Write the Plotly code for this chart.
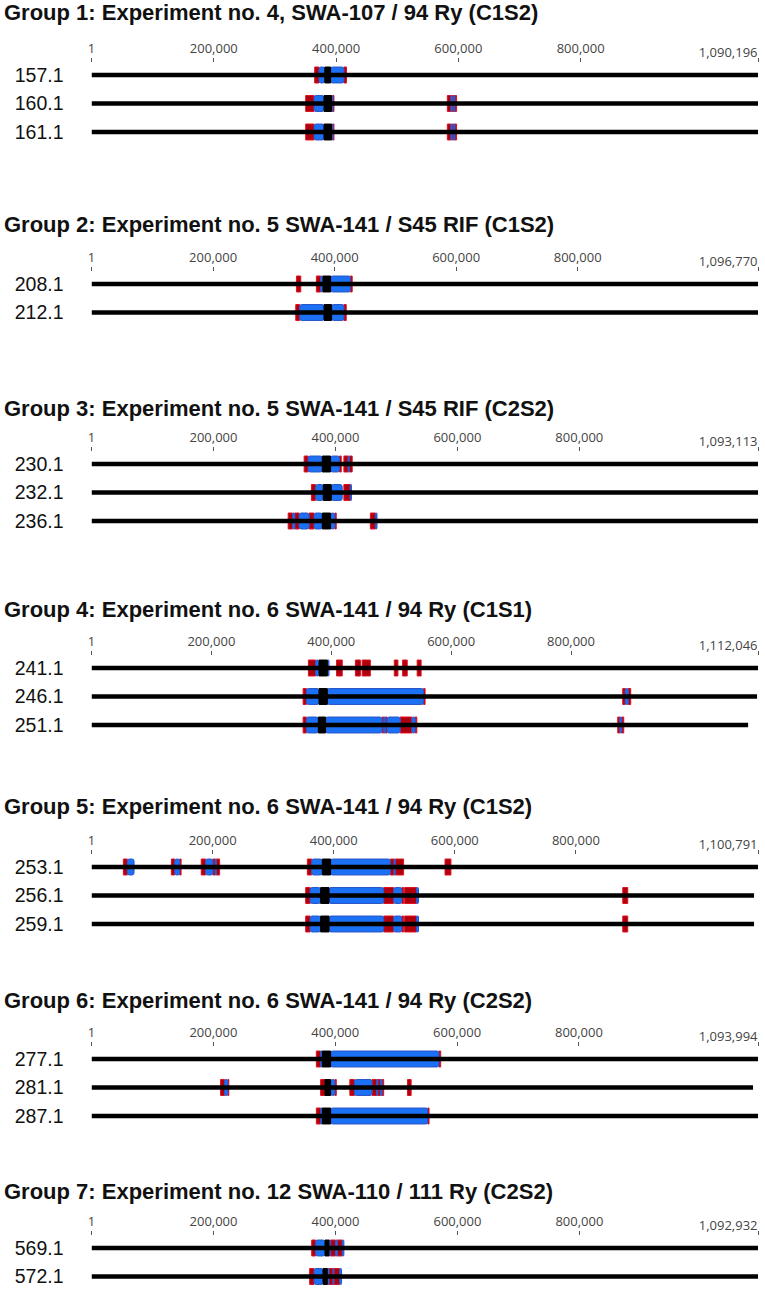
import plotly.graph_objects as go

# group titles, genome lengths and samples
group_titles = [
    "Group 1: Experiment no. 4, SWA-107 / 94 Ry (C1S2)",
    "Group 2: Experiment no. 5 SWA-141 / S45 RIF (C1S2)",
    "Group 3: Experiment no. 5 SWA-141 / S45 RIF (C2S2)",
    "Group 4: Experiment no. 6 SWA-141 / 94 Ry (C1S1)",
    "Group 5: Experiment no. 6 SWA-141 / 94 Ry (C1S2)",
    "Group 6: Experiment no. 6 SWA-141 / 94 Ry (C2S2)",
    "Group 7: Experiment no. 12 SWA-110 / 111 Ry (C2S2)",
]
genome_lengths = [1090196, 1096770, 1093113, 1112046, 1100791, 1093994, 1092932]
group_samples = [
    ["157.1", "160.1", "161.1"],
    ["208.1", "212.1"],
    ["230.1", "232.1", "236.1"],
    ["241.1", "246.1", "251.1"],
    ["253.1", "256.1", "259.1"],
    ["277.1", "281.1", "287.1"],
    ["569.1", "572.1"],
]
sample_lengths = [
    [1090196, 1090196, 1090196],
    [1096770, 1096770],
    [1093113, 1093113, 1093113],
    [1112046, 1110400, 1095500],
    [1100791, 1094200, 1094200],
    [1093994, 1085800, 1093994],
    [1092932, 1092932],
]

# segments: (sample, start kb, end kb, kind)  R=red, B=blue, K=black
g1_segments = [
    ("157.1", 365.0, 372.1, "R"), ("157.1", 372.1, 381.6, "B"), ("157.1", 381.6, 391.0, "K"),
    ("157.1", 391.0, 412.8, "B"), ("157.1", 412.8, 417.0, "R"),
    ("160.1", 350.3, 364.0, "R"), ("160.1", 364.0, 380.3, "B"), ("160.1", 380.3, 392.6, "K"),
    ("160.1", 392.6, 394.9, "B"), ("160.1", 394.9, 396.5, "R"),
    ("160.1", 582.0, 587.9, "R"), ("160.1", 587.9, 590.2, "B"), ("160.1", 590.2, 592.7, "R"),
    ("160.1", 592.7, 594.4, "B"), ("160.1", 594.4, 597.1, "R"),
    ("161.1", 350.3, 364.0, "R"), ("161.1", 364.0, 380.3, "B"), ("161.1", 380.3, 392.6, "K"),
    ("161.1", 392.6, 394.9, "B"), ("161.1", 394.9, 396.5, "R"),
    ("161.1", 582.0, 587.9, "R"), ("161.1", 587.9, 590.2, "B"), ("161.1", 590.2, 592.7, "R"),
    ("161.1", 592.7, 594.4, "B"), ("161.1", 594.4, 597.1, "R"),
]
g2_segments = [
    ("208.1", 337.2, 344.3, "R"), ("208.1", 370.0, 377.0, "R"), ("208.1", 377.0, 380.9, "B"),
    ("208.1", 380.9, 393.4, "K"), ("208.1", 393.4, 426.1, "B"), ("208.1", 426.1, 428.9, "R"),
    ("212.1", 336.1, 342.6, "R"), ("212.1", 342.6, 382.6, "B"), ("212.1", 382.6, 395.0, "K"),
    ("212.1", 395.0, 415.3, "B"), ("212.1", 415.3, 419.1, "R"),
]
g3_segments = [
    ("230.1", 348.7, 355.2, "R"), ("230.1", 355.2, 378.5, "B"), ("230.1", 378.5, 392.0, "K"),
    ("230.1", 392.0, 406.7, "B"), ("230.1", 406.7, 409.5, "R"), ("230.1", 413.9, 420.9, "R"),
    ("230.1", 420.9, 423.1, "B"), ("230.1", 423.1, 427.5, "R"),
    ("232.1", 360.6, 367.6, "R"), ("232.1", 367.6, 380.1, "B"), ("232.1", 380.1, 393.2, "K"),
    ("232.1", 393.2, 411.1, "B"), ("232.1", 413.9, 424.2, "R"), ("232.1", 424.2, 426.3, "B"),
    ("236.1", 322.5, 329.6, "R"), ("236.1", 329.6, 333.3, "B"), ("236.1", 333.3, 340.5, "R"),
    ("236.1", 340.5, 356.8, "B"), ("236.1", 356.8, 365.0, "R"), ("236.1", 365.0, 378.5, "B"),
    ("236.1", 378.5, 392.0, "K"), ("236.1", 392.0, 399.2, "B"), ("236.1", 399.2, 401.3, "R"),
    ("236.1", 457.3, 465.5, "R"), ("236.1", 465.5, 468.2, "B"),
]
g4_segments = [
    ("241.1", 361.8, 374.0, "R"), ("241.1", 374.0, 379.6, "B"), ("241.1", 379.6, 393.4, "K"),
    ("241.1", 393.4, 396.2, "B"), ("241.1", 408.8, 418.3, "R"), ("241.1", 440.3, 448.6, "R"),
    ("241.1", 451.5, 465.2, "R"), ("241.1", 505.1, 511.2, "R"), ("241.1", 519.0, 526.7, "R"),
    ("241.1", 543.3, 549.9, "R"),
    ("246.1", 353.0, 358.5, "R"), ("246.1", 358.5, 379.6, "B"), ("246.1", 379.6, 393.4, "K"),
    ("246.1", 393.4, 553.9, "B"), ("246.1", 553.9, 556.5, "R"),
    ("246.1", 886.3, 890.5, "R"), ("246.1", 890.5, 895.5, "B"), ("246.1", 895.5, 899.6, "R"),
    ("251.1", 353.0, 358.5, "R"), ("251.1", 358.5, 378.4, "B"), ("251.1", 378.4, 390.5, "K"),
    ("251.1", 390.5, 484.7, "B"), ("251.1", 484.7, 487.5, "R"), ("251.1", 487.5, 490.1, "B"),
    ("251.1", 490.1, 492.9, "R"), ("251.1", 492.9, 515.0, "B"), ("251.1", 515.0, 534.4, "R"),
    ("251.1", 534.4, 539.9, "B"), ("251.1", 539.9, 542.7, "R"),
    ("251.1", 878.0, 881.4, "R"), ("251.1", 881.4, 884.7, "B"), ("251.1", 884.7, 888.0, "R"),
]
g5_segments = [
    ("253.1", 52.6, 59.1, "R"), ("253.1", 59.1, 70.2, "B"),
    ("253.1", 131.9, 137.5, "R"), ("253.1", 137.5, 145.7, "B"), ("253.1", 145.7, 147.9, "R"),
    ("253.1", 181.2, 188.5, "R"), ("253.1", 188.5, 200.4, "B"), ("253.1", 200.4, 204.0, "R"),
    ("253.1", 204.0, 206.0, "B"), ("253.1", 206.0, 211.5, "R"),
    ("253.1", 356.5, 363.6, "R"), ("253.1", 363.6, 381.2, "B"), ("253.1", 381.2, 394.8, "K"),
    ("253.1", 394.8, 493.4, "B"), ("253.1", 493.4, 499.5, "R"), ("253.1", 499.5, 501.6, "B"),
    ("253.1", 501.6, 515.4, "R"), ("253.1", 583.8, 593.6, "R"),
    ("256.1", 353.7, 361.0, "R"), ("256.1", 361.0, 378.4, "B"), ("256.1", 378.4, 392.2, "K"),
    ("256.1", 392.2, 482.5, "B"), ("256.1", 482.5, 498.9, "R"), ("256.1", 498.9, 512.6, "B"),
    ("256.1", 512.6, 515.4, "R"), ("256.1", 517.1, 536.6, "R"), ("256.1", 536.6, 540.0, "B"),
    ("256.1", 877.4, 885.6, "R"),
    ("259.1", 353.7, 361.0, "R"), ("259.1", 361.0, 378.4, "B"), ("259.1", 378.4, 392.2, "K"),
    ("259.1", 392.2, 482.5, "B"), ("259.1", 482.5, 498.9, "R"), ("259.1", 498.9, 512.6, "B"),
    ("259.1", 512.6, 515.4, "R"), ("259.1", 517.1, 536.6, "R"), ("259.1", 536.6, 540.0, "B"),
    ("259.1", 877.4, 885.6, "R"),
]
g6_segments = [
    ("277.1", 369.0, 376.0, "R"), ("277.1", 376.0, 378.8, "B"), ("277.1", 378.8, 392.4, "K"),
    ("277.1", 392.4, 570.3, "B"), ("277.1", 570.3, 573.1, "R"),
    ("281.1", 211.8, 218.3, "R"), ("281.1", 218.3, 223.7, "B"), ("281.1", 223.7, 225.3, "R"),
    ("281.1", 376.0, 383.2, "R"), ("281.1", 383.2, 392.4, "K"), ("281.1", 392.4, 399.5, "B"),
    ("281.1", 399.5, 401.7, "R"), ("281.1", 424.0, 431.5, "R"), ("281.1", 431.5, 460.4, "B"),
    ("281.1", 460.4, 468.0, "R"), ("281.1", 468.0, 470.0, "B"), ("281.1", 470.0, 474.0, "R"),
    ("281.1", 474.0, 476.8, "B"), ("281.1", 476.8, 479.5, "R"), ("281.1", 518.7, 524.6, "R"),
    ("287.1", 369.0, 376.0, "R"), ("287.1", 376.0, 378.8, "B"), ("287.1", 378.8, 392.4, "K"),
    ("287.1", 392.4, 551.9, "B"), ("287.1", 551.9, 554.0, "R"),
]
g7_segments = [
    ("569.1", 361.0, 367.5, "R"), ("569.1", 367.5, 382.9, "B"), ("569.1", 382.9, 389.4, "K"),
    ("569.1", 389.4, 392.0, "B"), ("569.1", 392.0, 400.1, "R"), ("569.1", 400.1, 402.9, "B"),
    ("569.1", 402.9, 411.1, "R"), ("569.1", 411.1, 413.8, "B"),
    ("572.1", 357.7, 364.9, "R"), ("572.1", 364.9, 379.6, "B"), ("572.1", 379.6, 386.6, "K"),
    ("572.1", 386.6, 389.4, "B"), ("572.1", 389.4, 395.9, "R"), ("572.1", 395.9, 397.5, "B"),
    ("572.1", 397.5, 406.7, "R"), ("572.1", 406.7, 410.0, "B"),
]
group_segments = [g1_segments, g2_segments, g3_segments, g4_segments,
                  g5_segments, g6_segments, g7_segments]

tick_values = [1, 200000, 400000, 600000, 800000]
tick_labels = ["1", "200,000", "400,000", "600,000", "800,000"]

# fill / outline per segment kind
fills = {"R": "#b0000e", "B": "#1c70f4", "K": "#000000"}
edges = {"R": "#e0101e", "B": "#2a55c8", "K": "#000000"}

W, H = 765, 1296
LEFT, RIGHT = 88, 758
ROW = 28.5
track_top = [75, 284, 464, 668, 867, 1059, 1248]
title_y = [13, 224, 408, 609, 806, 1000, 1191]

tick_font = dict(family="Open Sans", size=13, color="#444")

fig = go.Figure()
layout = {}
annotations = []

for g, title in enumerate(group_titles):
    k = "" if g == 0 else str(g + 1)
    xref, yref = "x" + k, "y" + k
    xlen = "x" + str(g + 8)
    samples = group_samples[g]
    n = len(samples)
    L = genome_lengths[g]
    t0 = track_top[g]

    # chromosome lines
    for i, s in enumerate(samples):
        fig.add_trace(go.Scatter(x=[1, sample_lengths[g][i]], y=[i, i], mode="lines",
                                 line=dict(color="black", width=4.5), hoverinfo="skip",
                                 showlegend=False, xaxis=xref, yaxis=yref))

    # coloured blocks
    for kind in ["R", "B", "K"]:
        segs = [sg for sg in group_segments[g] if sg[3] == kind]
        fig.add_trace(go.Bar(
            orientation="h",
            y=[samples.index(sg[0]) for sg in segs],
            base=[sg[1] * 1000 for sg in segs],
            x=[(sg[2] - sg[1]) * 1000 for sg in segs],
            width=0.56,
            marker=dict(color=fills[kind], line=dict(color=edges[kind], width=1),
                        cornerradius=2 if kind == "B" else 0),
            showlegend=False, xaxis=xref, yaxis=yref))

    # empty trace so the genome-length axis gets drawn
    fig.add_trace(go.Scatter(x=[1, L], y=[0, 0], mode="lines", opacity=0,
                             line=dict(width=0), hoverinfo="skip", showlegend=False,
                             xaxis=xlen, yaxis=yref))

    top_px = t0 - 12
    bot_px = t0 + (n - 1) * ROW + 14.25
    axis_common = dict(side="top", range=[1, L], ticks="outside", ticklen=4,
                       tickwidth=1, tickcolor="#555", tickfont=tick_font,
                       showgrid=False, zeroline=False, showline=False, fixedrange=True)
    layout["xaxis" + k] = dict(domain=[LEFT / W, RIGHT / W], anchor=yref,
                               tickvals=tick_values, ticktext=tick_labels, **axis_common)
    # genome length label, right aligned on its tick
    layout["xaxis" + str(g + 8)] = dict(overlaying=xref, anchor=yref,
                                        tickvals=[L], ticktext=[f"{L:,}"],
                                        ticklabelposition="outside left", **axis_common)
    layout["yaxis" + k] = dict(
        domain=[1 - bot_px / H, 1 - top_px / H], anchor=xref,
        range=[n - 0.5, -12 / ROW], tickvals=list(range(n)), ticktext=samples,
        tickfont=dict(family="Liberation Sans, Arial", size=19.5, color="#111"),
        ticklabelstandoff=27, showgrid=False, zeroline=False, showline=False,
        fixedrange=True)

    annotations.append(dict(x=0, xref="paper", y=1 - title_y[g] / H, yref="paper",
                            text=f"<b>{title}</b>", showarrow=False, xanchor="left",
                            yanchor="middle", xshift=-2,
                            font=dict(family="Liberation Sans, Arial", size=22,
                                      color="#111")))

fig.update_layout(**layout)
fig.update_layout(width=W, height=H, margin=dict(l=0, r=0, t=0, b=0),
                  paper_bgcolor="white", plot_bgcolor="white", barmode="overlay",
                  annotations=annotations, showlegend=False)
# page margin off so the figure sits at the window corner
fig.write_html("out.html", config={"displayModeBar": False},
               post_script="document.body.style.margin = '0';")
